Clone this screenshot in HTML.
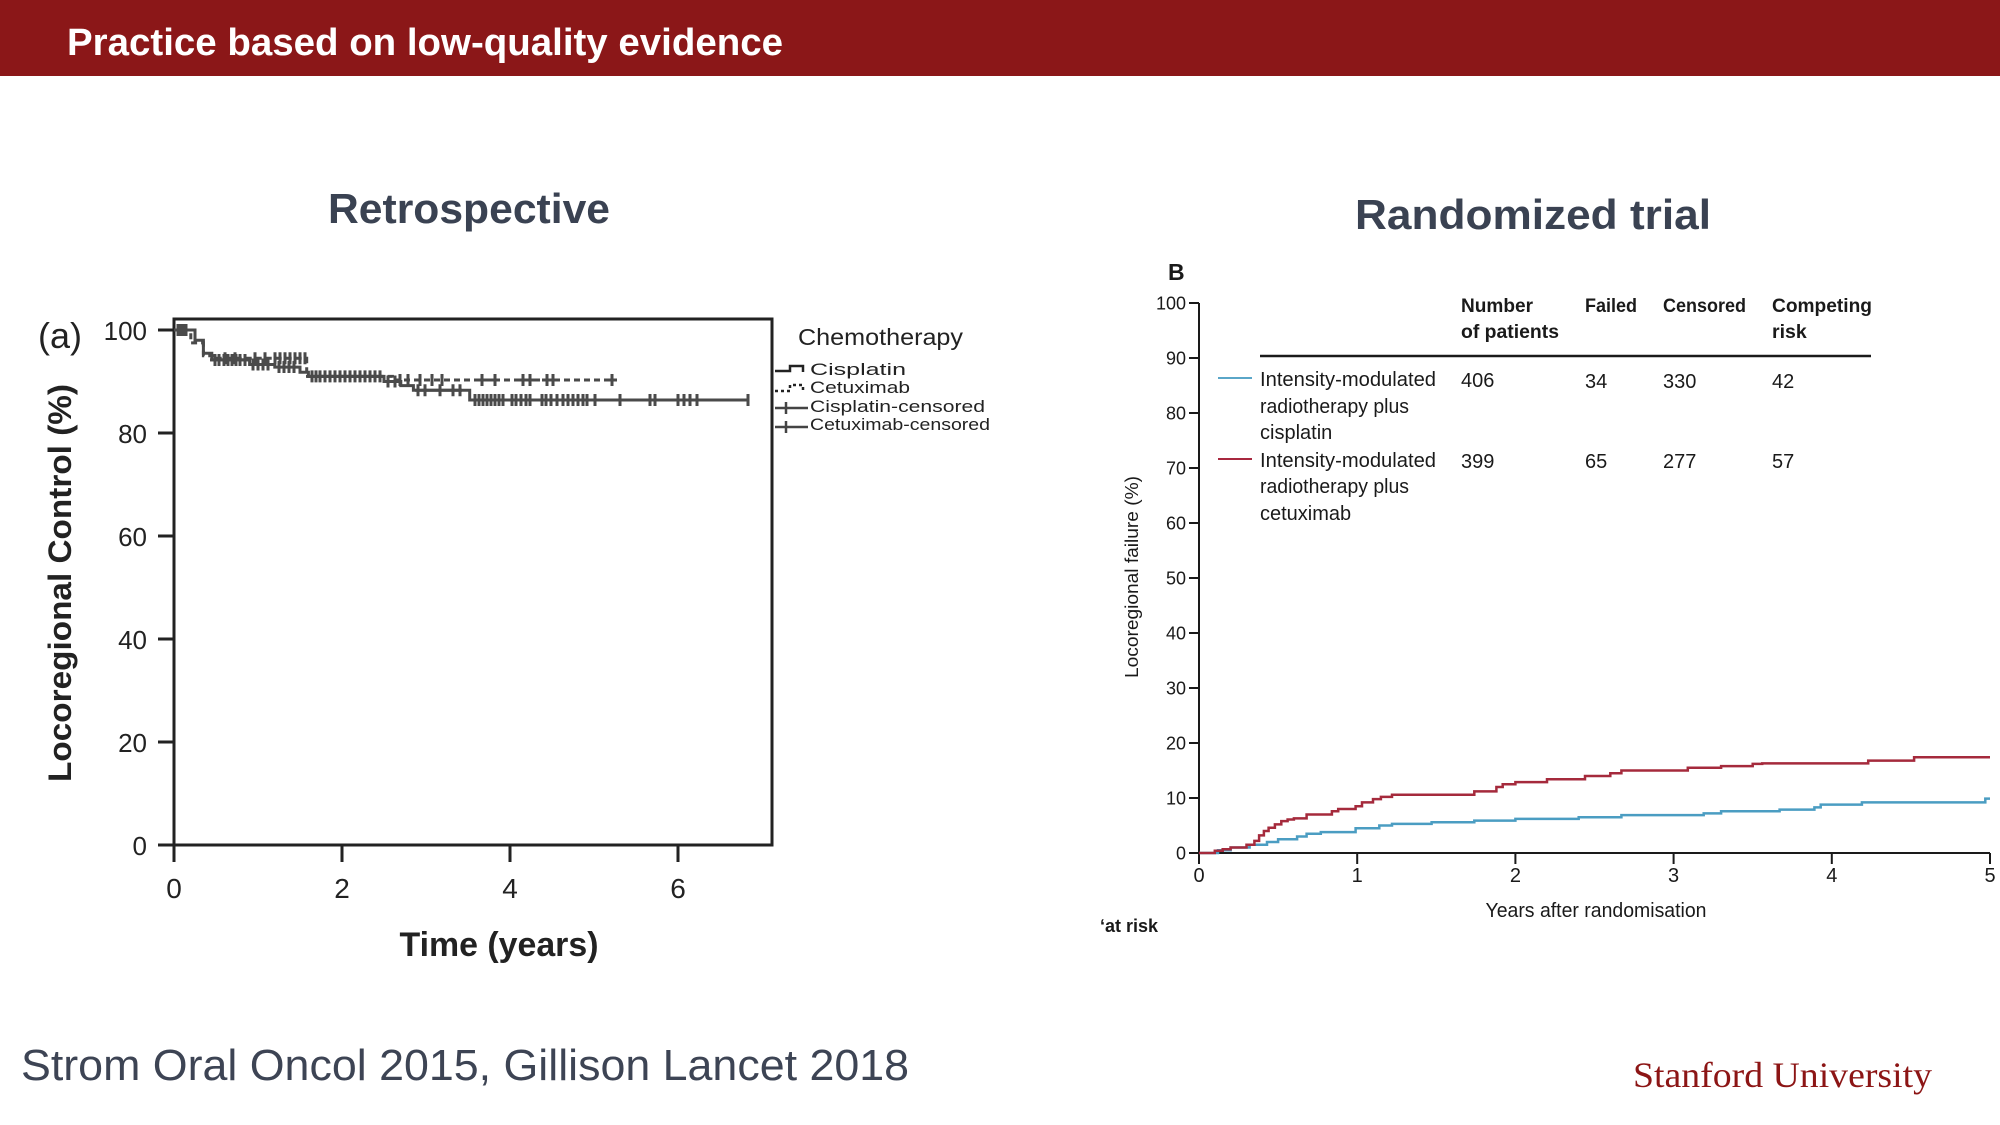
<!DOCTYPE html>
<html>
<head>
<meta charset="utf-8">
<style>
html,body{margin:0;padding:0;background:#fff;}
svg{display:block;}
</style>
</head>
<body>
<svg width="2000" height="1125" viewBox="0 0 2000 1125" xmlns="http://www.w3.org/2000/svg">
<rect x="0" y="0" width="2000" height="1125" fill="#ffffff"/>
<!-- header -->
<rect x="0" y="0" width="2000" height="76" fill="#8b1718"/>
<text x="67" y="55" font-family="Liberation Sans, sans-serif" font-weight="bold" font-size="38" fill="#ffffff" textLength="716" lengthAdjust="spacingAndGlyphs">Practice based on low-quality evidence</text>

<!-- section titles -->
<text x="328" y="223" font-family="Liberation Sans, sans-serif" font-weight="bold" font-size="42" fill="#3a4252" textLength="282" lengthAdjust="spacingAndGlyphs">Retrospective</text>
<text x="1355" y="229" font-family="Liberation Sans, sans-serif" font-weight="bold" font-size="42" fill="#3a4252" textLength="356" lengthAdjust="spacingAndGlyphs">Randomized trial</text>

<!-- ============ LEFT CHART ============ -->
<g font-family="Liberation Sans, sans-serif" fill="#222">
<text x="38" y="348" font-size="36">(a)</text>
<text transform="translate(71,583) rotate(-90)" text-anchor="middle" font-size="32" font-weight="bold" textLength="398" lengthAdjust="spacingAndGlyphs">Locoregional Control (%)</text>
<g font-size="26" text-anchor="end">
<text x="147" y="340">100</text>
<text x="147" y="443">80</text>
<text x="147" y="546">60</text>
<text x="147" y="649">40</text>
<text x="147" y="752">20</text>
<text x="147" y="855">0</text>
</g>
<g font-size="28" text-anchor="middle">
<text x="174" y="898">0</text>
<text x="342" y="898">2</text>
<text x="510" y="898">4</text>
<text x="678" y="898">6</text>
</g>
<text x="499" y="956" font-size="34" font-weight="bold" text-anchor="middle" textLength="199" lengthAdjust="spacingAndGlyphs">Time (years)</text>
<text x="798" y="345" font-size="23" textLength="165" lengthAdjust="spacingAndGlyphs">Chemotherapy</text>
<g font-size="17">
<text x="810" y="375" textLength="96" lengthAdjust="spacingAndGlyphs">Cisplatin</text>
<text x="810" y="393" textLength="100" lengthAdjust="spacingAndGlyphs">Cetuximab</text>
<text x="810" y="412" textLength="175" lengthAdjust="spacingAndGlyphs">Cisplatin-censored</text>
<text x="810" y="430" textLength="180" lengthAdjust="spacingAndGlyphs">Cetuximab-censored</text>
</g>
</g>
<!-- box and ticks -->
<rect x="174" y="319" width="598" height="526" fill="none" stroke="#222" stroke-width="3"/>
<path d="M158,330H174M158,433H174M158,536H174M158,639H174M158,742H174M158,845H174M174,845V862M342,845V862M510,845V862M678,845V862" stroke="#222" stroke-width="3" fill="none"/>
<!-- legend symbols -->
<path d="M775,371H790V366H803V372" stroke="#222" stroke-width="2.5" fill="none"/>
<path d="M775,391H790V385H803V391" stroke="#222" stroke-width="2.5" fill="none" stroke-dasharray="3,3"/>
<path d="M775,408H808M786,402V414M775,427H808M786,421V433" stroke="#444" stroke-width="2.5" fill="none"/>
<!-- curves -->
<path d="M174,330H195V340.3H203.4V353.2H211.8V359.9H249.6V364.5H274.8V367.1H300V372.2H308.4V376.4H384V381.5H400.8V385.6H413.4V390.3H469.7V400H748" stroke="#4a4a4a" stroke-width="3" fill="none"/>
<path d="M174,330H190.8V342.9H203.4V355.75H216V358.3H306.7V376.4H392.4V380H611.6" stroke="#4a4a4a" stroke-width="3" fill="none" stroke-dasharray="6,4"/>
<!-- censor marks -->
<path stroke="#4a4a4a" stroke-width="3" fill="none" d="
M178,324v12M183,324v12
M215,354v12M219,354v12M224,354v12M228,354v12M232,354v12M236,354v12M240,354v12M245,354v12
M253,358.5v12M258,358.5v12M263,358.5v12M268,358.5v12
M279,361v12M284,361v12M289,361v12M294,361v12
M312,370.4v12M316,370.4v12M320,370.4v12M325,370.4v12M330,370.4v12M335,370.4v12M340,370.4v12M345,370.4v12M350,370.4v12M355,370.4v12M360,370.4v12M365,370.4v12M370,370.4v12M375,370.4v12M380,370.4v12
M388,375.5v12M395,375.5v12
M418,384.3v12M425,384.3v12M440,384.3v12M453,384.3v12M460,384.3v12
M475,394v12M479,394v12M483,394v12M487,394v12M491,394v12M495,394v12M499,394v12M503,394v12M512,394v12M516,394v12M521,394v12M526,394v12M530,394v12M542,394v12M546,394v12M551,394v12M557,394v12M563,394v12M568,394v12M573,394v12M578,394v12M583,394v12M587,394v12M595,394v12M620,394v12M650,394v12M655,394v12M678,394v12M684,394v12M690,394v12M697,394v12M748,394v12
M180,324v12M186,324v12
M225,352.3v12M235,352.3v12M255,352.3v12M265,352.3v12M275,352.3v12M280,352.3v12M285,352.3v12M290,352.3v12M295,352.3v12M300,352.3v12M305,352.3v12
M320,370.4v12M335,370.4v12M350,370.4v12M365,370.4v12
M400,374v12M408,374v12M420,374v12M432,374v12M442,374v12M482,374v12M495,374v12M523,374v12M530,374v12M547,374v12M553,374v12M612,374v12
"/>
<path stroke="#4a4a4a" stroke-width="3" fill="none" d="M210,359.9H250M306,376.4H382M415,390.3H462M472,400H590M474,380H500M518,380H535M542,380H558M607,380H617"/>

<!-- ============ RIGHT CHART ============ -->
<g font-family="Liberation Sans, sans-serif" fill="#1a1a1a">
<text x="1168" y="280" font-size="23" font-weight="bold">B</text>
<g font-size="18" text-anchor="end">
<text x="1186" y="309.5">100</text>
<text x="1186" y="364.5">90</text>
<text x="1186" y="419.5">80</text>
<text x="1186" y="474.5">70</text>
<text x="1186" y="529.5">60</text>
<text x="1186" y="584.5">50</text>
<text x="1186" y="639.5">40</text>
<text x="1186" y="694.5">30</text>
<text x="1186" y="749.5">20</text>
<text x="1186" y="804.5">10</text>
<text x="1186" y="859.5">0</text>
</g>
<g font-size="20" text-anchor="middle">
<text x="1199" y="882">0</text>
<text x="1357.2" y="882">1</text>
<text x="1515.4" y="882">2</text>
<text x="1673.6" y="882">3</text>
<text x="1831.8" y="882">4</text>
<text x="1990" y="882">5</text>
</g>
<text x="1596" y="917" font-size="20" text-anchor="middle" textLength="221" lengthAdjust="spacingAndGlyphs">Years after randomisation</text>
<text transform="translate(1138,577) rotate(-90)" font-size="18" text-anchor="middle" textLength="202" lengthAdjust="spacingAndGlyphs">Locoregional failure (%)</text>
<text x="1100" y="932" font-size="18" font-weight="bold">ʻat risk</text>
<g font-size="19.5" font-weight="bold">
<text x="1461" y="312" textLength="72" lengthAdjust="spacingAndGlyphs">Number</text>
<text x="1461" y="338" textLength="98" lengthAdjust="spacingAndGlyphs">of patients</text>
<text x="1585" y="312" textLength="52" lengthAdjust="spacingAndGlyphs">Failed</text>
<text x="1663" y="312" textLength="83" lengthAdjust="spacingAndGlyphs">Censored</text>
<text x="1772" y="312" textLength="100" lengthAdjust="spacingAndGlyphs">Competing</text>
<text x="1772" y="338">risk</text>
</g>
<g font-size="20">
<text x="1260" y="386" textLength="176" lengthAdjust="spacingAndGlyphs">Intensity-modulated</text>
<text x="1260" y="413" textLength="149" lengthAdjust="spacingAndGlyphs">radiotherapy plus</text>
<text x="1260" y="439">cisplatin</text>
<text x="1260" y="467" textLength="176" lengthAdjust="spacingAndGlyphs">Intensity-modulated</text>
<text x="1260" y="493" textLength="149" lengthAdjust="spacingAndGlyphs">radiotherapy plus</text>
<text x="1260" y="520">cetuximab</text>
<text x="1461" y="387">406</text>
<text x="1585" y="388">34</text>
<text x="1663" y="388">330</text>
<text x="1772" y="388">42</text>
<text x="1461" y="468">399</text>
<text x="1585" y="468">65</text>
<text x="1663" y="468">277</text>
<text x="1772" y="468">57</text>
</g>
</g>
<path d="M1260,356H1871" stroke="#1a1a1a" stroke-width="2.5"/>
<path d="M1218,378H1252" stroke="#5aa6c8" stroke-width="2"/>
<path d="M1218,459H1252" stroke="#a8283f" stroke-width="2"/>
<!-- axes -->
<path d="M1199,303V853H1990" stroke="#1a1a1a" stroke-width="2" fill="none"/>
<path d="M1189,303H1199M1189,358H1199M1189,413H1199M1189,468H1199M1189,523H1199M1189,578H1199M1189,633H1199M1189,688H1199M1189,743H1199M1189,798H1199M1189,853H1199M1199,853V864M1357.2,853V864M1515.4,853V864M1673.6,853V864M1831.8,853V864M1990,853V864" stroke="#1a1a1a" stroke-width="2" fill="none"/>
<!-- curves -->
<path d="M1199,853H1218V850.3H1230.6V847.5H1249.6V844.8H1267V842H1278.1V839.3H1297.1V836.5H1306.6V833.8H1320.8V832.1H1355.6V828.3H1379.3V825.5H1392V823.9H1431.6V822.2H1474.3V820.6H1515.4V818.9H1578.7V817.3H1621.4V815.1H1703.7V813.4H1721.1V811.2H1779.6V809.6H1814.4V807.4H1820.7V804.6H1861.9V802.4H1985.3V798.6H1990" stroke="#4b9dc2" stroke-width="2.5" fill="none"/>
<path d="M1199,853H1214.8V850.8H1222.7V849.2H1230.6V847.5H1246.5V844.8H1254.4V840.9H1259.1V835.4H1263.9V831H1268.6V827.7H1274.9V824.4H1281.3V821.1H1287.6V819.5H1293.9V818.4H1306.6V814.5H1331.9V811.2H1338.2V809H1355.6V806.3H1362V802.4H1373V799.1H1380.9V796.9H1392V794.7H1474.3V791.4H1496.4V787H1502.7V784.3H1515.4V782.1H1547V779.3H1585V776H1610.3V773.3H1621.4V770.5H1687.8V767.8H1721.1V766.1H1752.7V763.9H1762.2V763.4H1868.2V760.6H1914.1V757.3H1990" stroke="#a52a3c" stroke-width="2.5" fill="none"/>

<!-- footer -->
<text x="21" y="1080" font-family="Liberation Sans, sans-serif" font-size="44" fill="#3d4454" textLength="888" lengthAdjust="spacingAndGlyphs">Strom Oral Oncol 2015, Gillison Lancet 2018</text>
<text x="1633" y="1087" font-family="Liberation Serif, serif" font-size="36" fill="#8c1515" textLength="299" lengthAdjust="spacingAndGlyphs">Stanford University</text>
</svg>
</body>
</html>
